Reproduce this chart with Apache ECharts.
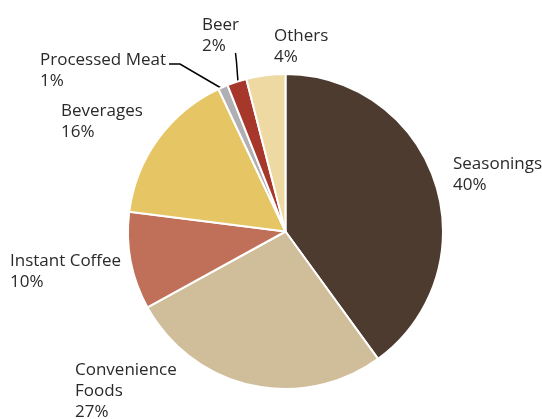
<!DOCTYPE html>
<html>
<head>
<meta charset="utf-8">
<script src="https://cdn.jsdelivr.net/npm/echarts@6/dist/echarts.min.js"></script>
<style>
  html, body { margin: 0; padding: 0; background: #fff; }
  #chart { width: 542px; height: 419px; }
</style>
</head>
<body>
<div id="chart"></div>
<script>
// Sales composition by product segment (share, %)
const categories = ['Seasonings', 'Convenience\nFoods', 'Instant Coffee', 'Beverages', 'Processed Meat', 'Beer', 'Others'];
const shares = [40, 27, 10, 16, 1, 2, 4];
const colors = ['#4e3b2f', '#d0be9b', '#c07058', '#e6c664', '#b0b0b4', '#a6372a', '#edd9a1'];

// Label anchor (left, top) for each segment's text block
const labelPos = [
  [453, 154], [75, 360], [10, 251], [61, 101], [40, 50], [202, 15], [274, 26]
];
// Leader lines for the two thin slices
const leaderLines = {
  4: [[221, 88], [180, 64], [169, 64]],
  5: [[238, 82], [236.5, 62], [235.5, 53]]
};

const chart = echarts.init(document.getElementById('chart'), null, { renderer: 'canvas' });
chart.setOption({
  animation: false,
  series: [{
    type: 'pie',
    center: [285.5, 231.5],
    radius: [0, 157.5],
    startAngle: 90,
    clockwise: true,
    avoidLabelOverlap: false,
    itemStyle: { borderColor: '#fff', borderWidth: 2 },
    label: {
      show: true,
      position: 'outside',
      formatter: '{b}\n{c}%',
      fontFamily: 'Open Sans',
      fontSize: 17,
      lineHeight: 21,
      color: '#2a2a2a',
      align: 'left'
    },
    labelLine: { show: false, lineStyle: { color: '#000', width: 1.5 } },
    labelLayout: function (p) {
      const pos = labelPos[p.dataIndex];
      const res = { x: pos[0], y: pos[1], align: 'left', verticalAlign: 'top' };
      if (leaderLines[p.dataIndex]) res.labelLinePoints = leaderLines[p.dataIndex];
      return res;
    },
    data: categories.map((name, i) => ({
      name: name,
      value: shares[i],
      itemStyle: { color: colors[i] },
      labelLine: { show: !!leaderLines[i] }
    }))
  }]
});
</script>
</body>
</html>
